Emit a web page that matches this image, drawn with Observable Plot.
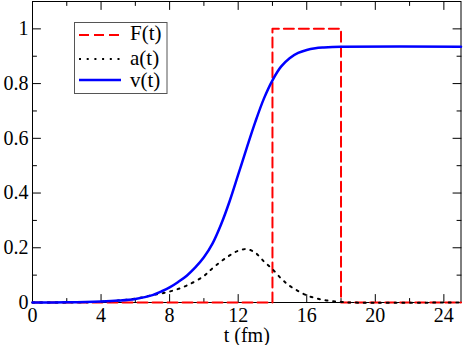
<!DOCTYPE html>
<html>
<head>
<meta charset="utf-8">
<script src="https://cdn.jsdelivr.net/npm/d3@7"></script>
<script src="https://cdn.jsdelivr.net/npm/@observablehq/plot@0.6"></script>
<style>
  html, body { margin: 0; padding: 0; background: white; }
</style>
</head>
<body>
<div id="chart"></div>
<script>
// ---- data ----
const F_t = [0, 14, 14, 18, 18, 25];
const F_val = [0, 0, 1, 1, 0, 0];

const a_t = [0, 3, 4, 5, 6, 7, 8, 9, 10, 10.5, 11, 11.5, 12, 12.5, 13, 13.5, 14, 14.5, 15, 15.5, 16, 16.5, 17, 17.5, 18, 18.5, 25];
const a_val = [0, 0.001, 0.003, 0.007, 0.014, 0.027, 0.040, 0.062, 0.097, 0.125, 0.150, 0.172, 0.189, 0.195, 0.182, 0.150, 0.122, 0.088, 0.061, 0.042, 0.026, 0.016, 0.009, 0.005, 0.002, 0, 0];

const v_t = [0, 2, 4, 5, 6, 7, 7.5, 8, 8.5, 9, 9.5, 10, 10.5, 11, 11.5, 12, 12.5, 13, 13.5, 14, 14.5, 15, 15.5, 16, 16.5, 17, 17.5, 18, 25];
const v_val = [0, 0.001, 0.004, 0.007, 0.013, 0.027, 0.040, 0.055, 0.075, 0.098, 0.128, 0.165, 0.215, 0.285, 0.37, 0.467, 0.565, 0.66, 0.745, 0.812, 0.862, 0.893, 0.912, 0.923, 0.929, 0.932, 0.934, 0.935, 0.935];

const xMajor = [0, 4, 8, 12, 16, 20, 24];
const xMinor = [2, 6, 10, 14, 18, 22];
const yMajor = [0, 0.2, 0.4, 0.6, 0.8, 1];
const yMinor = [0.1, 0.3, 0.5, 0.7, 0.9];

const legendLabels = ["F(t)", "a(t)", "v(t)"];
const xLabel = "t (fm)";

// ---- build tables ----
const zipT = (ts, vs) => ts.map((t, i) => ({t, value: vs[i]}));
const Fdata = zipT(F_t, F_val);
const adata = zipT(a_t, a_val);
const vdata = zipT(v_t, v_val);

const tickShape = {draw(ctx, l) { ctx.moveTo(0, 0); ctx.lineTo(0, -l); }};
const fmt = d3.format("~g");
const FONT = "Liberation Serif, Times New Roman, serif";

const RED = "#ff0000", BLUE = "#0000ff";
const styles = [
  {stroke: RED, strokeWidth: 2, strokeDasharray: "10,5"},
  {stroke: "black", strokeWidth: 2, strokeDasharray: "2,5.7"},
  {stroke: BLUE, strokeWidth: 2.5, strokeDasharray: null}
];

const ticks = (vals, anchor, rotate, len, ch) =>
  Plot.vector(vals, {[ch]: d => d, frameAnchor: anchor, rotate, length: len, anchor: "start", shape: tickShape, stroke: "black", strokeWidth: 1});

const chart = Plot.plot({
  width: 463,
  height: 345,
  marginLeft: 32,
  marginRight: 2.5,
  marginTop: 1,
  marginBottom: 43,
  style: {fontFamily: FONT, fontSize: "20px", background: "white", color: "black"},
  x: {domain: [0, 25], label: null},
  y: {domain: [0, 1.1], label: null},
  marks: [
    Plot.frame({stroke: "black", strokeWidth: 1}),
    ticks(xMajor, "bottom", 0, 8, "x"),
    ticks(xMinor, "bottom", 0, 4, "x"),
    ticks(xMajor, "top", 180, 8, "x"),
    ticks(xMinor, "top", 180, 4, "x"),
    ticks(yMajor, "left", 90, 8, "y"),
    ticks(yMinor, "left", 90, 4, "y"),
    ticks(yMajor, "right", -90, 8, "y"),
    ticks(yMinor, "right", -90, 4, "y"),
    Plot.axisX({ticks: xMajor, tickSize: 0, tickPadding: 5, tickFormat: fmt, label: xLabel, labelAnchor: "center", labelOffset: 39, labelArrow: "none", fontSize: 20}),
    Plot.axisY({ticks: yMajor, tickSize: 0, tickPadding: 4, tickFormat: fmt, label: null, fontSize: 20}),
    Plot.line(Fdata, {x: "t", y: "value", ...styles[0]}),
    Plot.line(adata, {x: "t", y: "value", curve: "catmull-rom", ...styles[1]}),
    Plot.line(vdata, {x: "t", y: "value", curve: "catmull-rom", ...styles[2]})
  ]
});

document.getElementById("chart").appendChild(chart);

// ---- legend box inside the plot ----
const svg = d3.select(chart);
const g = svg.append("g")
  .style("font-family", FONT).style("font-size", "21px").attr("text-anchor", "start");
g.append("rect").attr("x", 74.5).attr("y", 22.5).attr("width", 92.5).attr("height", 71)
  .attr("fill", "white").attr("stroke", "#555").attr("stroke-width", 1);
const rowY = [35, 59, 80];
const textY = [39.5, 64.5, 86.5];
legendLabels.forEach((lab, i) => {
  const s = styles[i];
  g.append("line").attr("x1", 79).attr("x2", 121).attr("y1", rowY[i]).attr("y2", rowY[i])
    .attr("stroke", s.stroke).attr("stroke-width", s.strokeWidth)
    .attr("stroke-dasharray", s.strokeDasharray);
  g.append("text").attr("x", 130).attr("y", textY[i])
    .attr("text-anchor", "start").attr("fill", "black").text(lab);
});
</script>
</body>
</html>
